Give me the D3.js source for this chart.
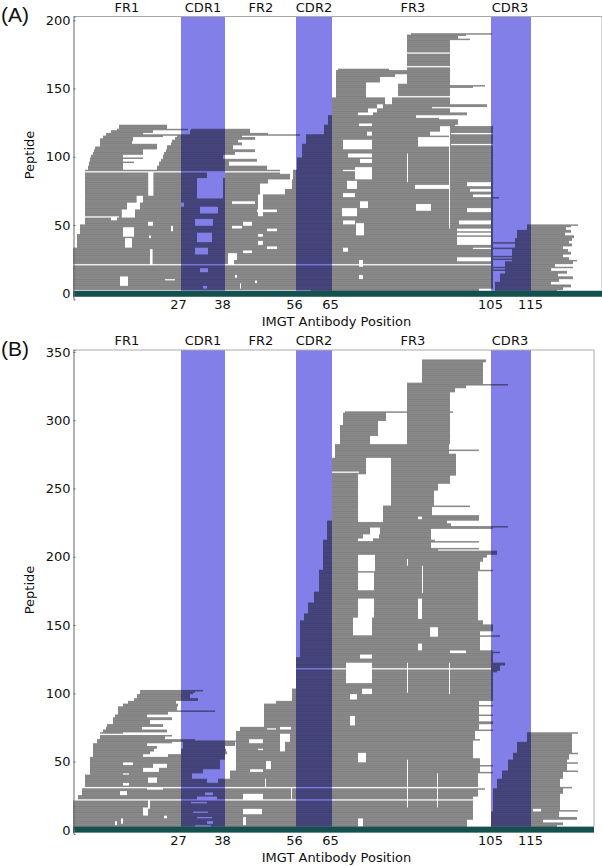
<!DOCTYPE html>
<meta charset="utf-8" />
<script src="https://d3js.org/d3.v7.min.js"></script>
<style>
  body { margin: 0; background: #fff; }
  text { font-family: "DejaVu Sans", sans-serif; fill: #111; }
</style>
<div id="chart"></div>
<script>
  // IMGT regions
  const regionNames = ["FR1", "CDR1", "FR2", "CDR2", "FR3", "CDR3"];
  const regionCenters = [14, 33, 47.5, 60.75, 85.5, 109.75];
  const cdrStarts = [27.5, 56.25, 105];
  const cdrEnds = [38.5, 65.25, 115];
  const positionTicks = [27, 38, 56, 65, 105, 115];
  const peptideTicksA = [0, 50, 100, 150, 200];
  const peptideTicksB = [0, 50, 100, 150, 200, 250, 300, 350];

  // peptide rows: [first row, last row, start position, end position]
  const peptidesA = [
    // long rows at the bottom
    [1, 3, 0.5, 102], [4, 33, 0.5, 105.5], [34, 43, 1.5, 105.5], [44, 50, 2.25, 105.5],
    [51, 90, 3.5, 105.5],
    // FR1 shoulder
    [121, 123, 12, 24], [120, 120, 11.5, 29.25], [118, 119, 10, 20.5], [116, 117, 8.75, 18],
    [116, 116, 9, 57.25], [114, 115, 8, 15.5], [115, 115, 8, 23], [112, 113, 7.25, 15.5], [110, 111, 7.25, 15.25],
    [108, 109, 7.25, 21.5], [106, 107, 6, 21.5], [104, 105, 5.75, 18], [102, 103, 5.5, 18],
    [100, 101, 5, 13], [99, 99, 4.75, 18], [97, 98, 4.75, 13], [96, 96, 4.5, 15.75], [94, 95, 4.5, 13], [91, 93, 4.25, 13],
    // CDR1 shoulder
    [120, 120, 30, 44.75], [118, 119, 29.75, 44.75], [117, 117, 29.75, 49.25], [115, 116, 26.5, 42.75],
    [113, 114, 26, 46], [111, 112, 25.25, 41.75], [109, 110, 25, 42.75], [106, 108, 24, 40.5],
    [104, 105, 23.75, 46], [102, 103, 23.25, 41], [99, 101, 23, 38], [97, 98, 22.5, 46.5],
    [94, 96, 22, 39.5], [91, 93, 21.5, 49],
    // CDR2 staircase and FR3
    [91, 99, 56.5, 105.5], [100, 109, 57.75, 105.5], [110, 116, 58.75, 105.5], [117, 122, 63.25, 105.5],
    [123, 123, 63.25, 96], [124, 127, 64.25, 96.75], [128, 128, 64.25, 92], [129, 130, 64.25, 86.25],
    [131, 132, 65.25, 71.75], [131, 132, 75.5, 99], [133, 135, 65.25, 74.25], [133, 135, 76.5, 94.75],
    [136, 138, 65.25, 76.5], [136, 136, 78, 90.25], [137, 138, 78, 104], [139, 143, 65.25, 78.5], [139, 143, 80.25, 94.75], [144, 149, 66.25, 73.75],
    [145, 153, 81.75, 94.75], [152, 152, 81.75, 103.5], [151, 151, 81.75, 100.5], [150, 154, 66.25, 73.75],
    [155, 158, 66.25, 77.25], [159, 160, 66.25, 81], [161, 163, 66.25, 84], [164, 164, 66.75, 79.5],
    [154, 185, 84, 94.75], [186, 186, 84, 99.75], [187, 188, 84, 96.75], [189, 189, 84, 98.75],
    [190, 190, 85, 105.25], [70, 70, 105.5, 107],
    // CDR3 staircase and tails
    [50, 50, 114, 126.75], [49, 49, 114, 125], [47, 48, 114, 123.75], [45, 46, 111.5, 125],
    [43, 44, 111.5, 123.5], [41, 42, 111.5, 125.75], [39, 40, 111, 125.25], [37, 38, 111, 124.5],
    [35, 36, 111, 125.25], [33, 34, 111, 123], [31, 32, 110.25, 124.25], [29, 30, 110.25, 125],
    [27, 28, 110.25, 123], [25, 26, 110.25, 124.5], [24, 24, 110.25, 126.5], [22, 23, 108.5, 125.5],
    [20, 21, 108.5, 121], [19, 19, 108.5, 125.5], [17, 18, 108.5, 120], [15, 16, 108.5, 124],
    [13, 14, 107.25, 121.75], [11, 12, 107.25, 125.5], [9, 10, 107.25, 122], [7, 8, 106, 120],
    [5, 6, 106, 125], [3, 4, 106, 123], [1, 2, 106, 121.5],
    [37, 37, 105, 112], [33, 33, 105, 112], [27, 27, 105, 112], [25, 25, 105, 112], [19, 19, 105, 110], [17, 17, 105, 110]
  ];

  // places where no peptide covers: [first row, last row, start position, end position]
  const gapsA = [
    // whole rows
    [89, 89, 3.5, 52.25], [21, 21, 0.5, 105], [2, 2, 0.5, 60], [56, 56, 3.5, 12],
    // FR1
    [72, 88, 19.3, 20.6], [67, 71, 16.4, 18], [62, 66, 14, 17.25], [56, 61, 12.7, 16],
    [42, 48, 13, 15.75], [34, 40, 13.5, 15.25], [22, 32, 19.75, 20.4], [6, 12, 12.25, 14.25],
    [54, 55, 10, 11.5], [50, 52, 19.25, 20.5], [46, 49, 25, 25.5], [41, 42, 19.5, 20], [10, 10, 23.5, 26],
    // CDR1
    [70, 84, 31.5, 38], [85, 88, 34, 38.5], [59, 63, 32.25, 36.75], [50, 54, 31, 35.5],
    [38, 44, 31.5, 35.25], [29, 33, 31, 34.25], [16, 18, 32.25, 34.25], [4, 5, 33, 34], [64, 66, 27.5, 28.25],
    // FR2
    [88, 90, 52.25, 55.5], [84, 87, 54.75, 55.5], [81, 83, 49.25, 55.25], [77, 80, 47.25, 55.25],
    [73, 76, 47.25, 53.5], [66, 72, 46.75, 48], [66, 67, 40.25, 46],
    [57, 65, 46.75, 48], [60, 61, 46.5, 51.5], [50, 52, 43, 45.25], [48, 49, 40.25, 42.75],
    [46, 47, 49, 51.5], [42, 43, 46.75, 48], [36, 38, 46.75, 48], [33, 34, 49, 51.5], [30, 31, 43, 45.25],
    [25, 29, 39.25, 41.5], [22, 24, 39.25, 40.75], [8, 9, 46, 46.5], [12, 13, 41, 41.5], [4, 7, 42.25, 42.5],
    // FR3
    [123, 124, 72, 75.25], [116, 118, 74, 75.25],
    [106, 112, 68, 75.25], [100, 102, 69.25, 75.25], [96, 98, 72.25, 75.25], [90, 90, 68, 75.25],
    [84, 92, 71, 75.25], [77, 82, 69, 71.5], [71, 73, 68, 71],
    [63, 67, 72.25, 74.25], [57, 62, 67.75, 71.5], [51, 53, 68, 71], [43, 51, 71.25, 73.25],
    [31, 33, 68, 69.25], [20, 24, 72, 73], [11, 13, 72, 73], [77, 79, 86, 94.5], [61, 65, 86.25, 90],
    [119, 122, 92.25, 94.75], [116, 118, 89.75, 94.75], [108, 114, 86.75, 94.75],
    [48, 122, 94.5, 94.75], [82, 102, 84, 84.25], [117, 117, 95, 105.5], [109, 109, 95, 105.5],
    [176, 176, 84, 94.75], [166, 166, 84, 94.75],
    // right of FR3
    [79, 81, 99, 105], [75, 76, 99.75, 105], [71, 72, 100.5, 105], [60, 62, 99, 105], [51, 53, 97, 105],
    [46, 47, 96.5, 105], [43, 44, 96.5, 105], [36, 41, 96.5, 105], [33, 33, 100.5, 105], [24, 26, 96.5, 105]
  ];

  const peptidesB = [
    // FR1 staircase
    [0, 21, 0.5, 41.25], [22, 25, 1.75, 41.25], [26, 30, 2.75, 41.25], [31, 40, 3.5, 41.25], [41, 43, 4.75, 41.25],
    [44, 52, 4.75, 37.25], [53, 53, 4.75, 38.5], [54, 55, 5.5, 18], [56, 57, 5.5, 19.75], [58, 59, 5.5, 20.75],
    [60, 61, 5.5, 21.5], [62, 63, 5.5, 19], [64, 64, 6.5, 25.25], [65, 66, 6.5, 31], [67, 68, 7.25, 23.5],
    [69, 70, 7.25, 25.25], [71, 71, 7.25, 13], [72, 73, 8, 24], [74, 75, 8.75, 17.75], [76, 77, 9, 23],
    [78, 80, 10.5, 19.75], [81, 82, 10.5, 25.25], [83, 84, 11, 19], [85, 86, 11.75, 24.25], [87, 87, 11.75, 36],
    [88, 90, 11.75, 26.5], [91, 92, 13, 26.75], [93, 94, 14.25, 26.25], [95, 96, 15.75, 31.75],
    [97, 99, 16.5, 29.75], [100, 100, 17.25, 30.5], [101, 101, 17.25, 31], [102, 102, 17.25, 33],
    // CDR1 pieces
    [65, 65, 28, 41.75], [62, 64, 28, 41], [60, 61, 28, 38.5], [58, 59, 27.5, 38.75], [56, 57, 27.5, 39],
    [52, 55, 24.25, 38.5],
    // FR2, CDR2 staircase and FR3
    [0, 2, 41.25, 99], [3, 7, 41.25, 99], [8, 24, 41.25, 100.5], [25, 26, 41.25, 101.75], [27, 29, 41.25, 101.75],
    [30, 30, 41.25, 103.5], [31, 41, 41.25, 101.75], [42, 42, 41.25, 105.5], [43, 46, 41.25, 102.25],
    [47, 47, 41.25, 105.5], [48, 52, 41.25, 102.25], [53, 65, 41.25, 100.5], [66, 66, 41.25, 102.25],
    [67, 72, 41.25, 101], [73, 73, 42.25, 105.5], [74, 75, 42.25, 102], [76, 77, 48.25, 102],
    [78, 79, 48.25, 105.5], [80, 83, 48.25, 102], [84, 84, 48.25, 105.5], [85, 90, 48.25, 102],
    [91, 91, 48.25, 105.5], [92, 92, 48.25, 102], [93, 94, 51.25, 102], [95, 103, 55.25, 105.5],
    [104, 115, 56.25, 105.5], [116, 116, 56.25, 106.5], [117, 120, 56.25, 107.25], [121, 122, 56.25, 108.5],
    [123, 126, 56.25, 105.5], [127, 129, 57.25, 105.5], [130, 130, 57.25, 107.25], [131, 131, 57.25, 105.5],
    [132, 141, 57.25, 102.25], [142, 142, 57.25, 107.25], [143, 145, 57.25, 102.25], [146, 150, 57.25, 105.5],
    [151, 153, 57.25, 103], [154, 158, 58.25, 101.75], [159, 166, 59.25, 101.75], [167, 174, 60.75, 101.75],
    [175, 189, 62, 101.75], [190, 190, 62, 105.5], [191, 196, 63, 102.25], [197, 199, 63, 103],
    [200, 201, 63, 104], [202, 204, 63, 106.5], [205, 205, 63, 91.75], [206, 206, 63, 102],
    [207, 210, 63, 90], [211, 211, 63, 102], [212, 212, 63, 91], [213, 220, 64, 90], [221, 221, 64, 105.5],
    [222, 222, 64, 109.25], [223, 224, 64, 95], [225, 226, 64, 94], [227, 230, 65.25, 102],
    [231, 236, 65.25, 90.25], [237, 237, 65.25, 99.75], [238, 248, 65.25, 90.75], [249, 253, 65.25, 91.75],
    [254, 259, 65.25, 94.75], [260, 272, 65.25, 96.25], [273, 275, 66, 96.25], [276, 277, 66, 94.5],
    [278, 278, 66, 102], [279, 282, 66, 94.5], [283, 296, 67.25, 94.75], [297, 305, 68, 94.75],
    [306, 306, 68.5, 95.5], [307, 320, 84, 94.75], [321, 323, 84, 96], [324, 325, 84, 98.75],
    [326, 326, 84, 109.25], [327, 327, 84, 103], [328, 342, 87.75, 103], [343, 344, 87.75, 103.75],
    // CDR3 staircase and tails
    [71, 71, 114, 126.75], [65, 70, 114, 125.25], [57, 64, 111.5, 125.25], [56, 56, 110.5, 126.75],
    [52, 55, 110.5, 124.5], [50, 51, 109.25, 124], [49, 49, 109.25, 126.75], [44, 48, 109.25, 124],
    [43, 43, 107.75, 126.75], [38, 42, 107.75, 123], [32, 37, 106.5, 122.25], [31, 31, 106.5, 125.25],
    [27, 30, 105.5, 123], [15, 26, 105.5, 122.25], [14, 14, 105.5, 126.75], [10, 13, 105, 122],
    [8, 9, 105, 126.5], [6, 7, 105, 118], [4, 5, 105, 123], [2, 3, 105, 121.5]
  ];

  const gapsB = [
    // whole rows
    [31, 31, 0.5, 105], [22, 22, 0.5, 105], [70, 70, 7, 25.25], [118, 118, 56, 105], [262, 262, 65, 72],
    // FR1
    [46, 48, 20.5, 24], [43, 45, 18, 22], [48, 49, 13, 15.5], [41, 41, 13, 14.5], [35, 38, 19.25, 21.5],
    [26, 28, 12.25, 14], [11, 16, 18, 19.25], [16, 21, 19.25, 19.75], [5, 8, 12.5, 13], [4, 6, 11, 11.5],
    [9, 10, 23.25, 24], [33, 34, 13, 14.5], [30, 30, 19, 23],
    // CDR1
    [42, 44, 33, 38.5], [38, 41, 30.25, 38.5], [35, 37, 34, 36.75], [38, 43, 38.5, 39.75], [31, 31, 31, 34],
    [26, 27, 33.5, 35.5], [23, 24, 31.5, 36.5], [20, 20, 30, 34], [13, 13, 30.5, 34.25], [9, 9, 31.5, 35.25],
    [5, 6, 34, 35.5], [3, 3, 31, 35],
    // FR2
    [64, 66, 44.5, 48], [65, 70, 52.25, 54.75], [58, 64, 52.25, 53.5], [59, 59, 46.75, 48], [22, 26, 43, 48],
    [12, 15, 43, 47.75], [4, 9, 43, 43.75], [45, 50, 48.75, 50], [43, 44, 44.75, 48], [31, 37, 48.5, 48.75],
    [22, 30, 55, 55.25], [74, 74, 49, 51.25], [74, 75, 52.25, 55],
    // FR3, upper part
    [300, 305, 78.75, 84], [289, 299, 76.75, 84], [283, 288, 74.75, 84], [261, 272, 73.75, 80],
    [238, 260, 71.75, 80], [226, 237, 71.75, 78], [228, 229, 86.75, 87.75], [217, 221, 74.75, 77.25],
    [214, 216, 73, 77], [212, 213, 71.75, 75.5], [190, 201, 71.75, 76], [176, 188, 71.75, 75.75],
    [156, 169, 71.75, 75.75], [155, 169, 86.75, 87.75], [174, 193, 87.75, 88], [194, 198, 84, 84.25],
    // FR3, lower part
    [143, 155, 70.5, 75.25], [142, 148, 89.75, 91.75], [126, 128, 72.25, 75.25], [108, 122, 68.75, 75.25],
    [100, 103, 72.75, 75.25], [96, 99, 69.75, 71.5], [77, 83, 69.75, 71], [50, 56, 71.75, 73.75],
    [3, 8, 71.75, 73], [132, 136, 86.75, 87.75], [130, 131, 94.75, 98.75], [101, 122, 84, 84.25],
    [100, 122, 94.5, 94.75], [17, 41, 91.5, 91.75], [17, 51, 84, 84.25], [14, 15, 115.5, 117.5]
  ];

  // merges the runs of each row and takes the gaps out, one rect per remaining span
  function rowSpans(runs, gaps) {
    const byRow = new Map();
    runs.forEach(function (d) {
      for (let r = d[0]; r <= d[1]; r++) {
        if (!byRow.has(r)) byRow.set(r, []);
        byRow.get(r).push([d[2], d[3]]);
      }
    });
    const spans = [];
    byRow.forEach(function (list, row) {
      list.sort((a, b) => a[0] - b[0]);
      const merged = [];
      list.forEach(function (s) {
        const last = merged[merged.length - 1];
        if (last && s[0] <= last[1]) last[1] = Math.max(last[1], s[1]);
        else merged.push(s.slice());
      });
      const rowGaps = gaps.filter((g) => row >= g[0] && row <= g[1]).sort((a, b) => a[2] - b[2]);
      merged.forEach(function (s) {
        let start = s[0];
        rowGaps.forEach(function (g) {
          if (g[3] <= start || g[2] >= s[1]) return;
          if (g[2] > start) spans.push({ row: row, start: start, end: g[2] });
          start = Math.max(start, g[3]);
        });
        if (start < s[1]) spans.push({ row: row, start: start, end: s[1] });
      });
    });
    return spans;
  }

  const svg = d3.select("#chart").append("svg").attr("width", 602).attr("height", 866);

  function drawPanel(opt) {
    const x = d3.scaleLinear().domain(opt.xDomain).range([73, opt.right]);
    const y = d3.scaleLinear().domain(opt.yDomain).range([opt.bottom, opt.top]);
    const g = svg.append("g");

    // CDR bands
    g.selectAll(".band")
      .data(cdrStarts)
      .enter()
      .append("rect")
      .attr("x", (d) => x(d))
      .attr("width", (d, i) => x(cdrEnds[i]) - x(d))
      .attr("y", opt.top)
      .attr("height", y(opt.barTop) - opt.top)
      .attr("fill", "#8280e8");

    // peptides
    const rowStep = y(0) - y(1);
    g.selectAll(".peptide")
      .data(rowSpans(opt.peptides, opt.gaps))
      .enter()
      .append("rect")
      .attr("x", (d) => x(d.start))
      .attr("width", (d) => x(d.end) - x(d.start))
      .attr("y", (d) => y(d.row + 0.5))
      .attr("height", rowStep * 1.12)
      .attr("fill", "#000")
      .attr("fill-opacity", 0.46);

    // sequence bar along the bottom
    g.append("rect")
      .attr("x", 73)
      .attr("width", opt.right - 73)
      .attr("y", y(opt.barTop))
      .attr("height", y(opt.barBottom) - y(opt.barTop))
      .attr("fill", "#14504e");

    // frame
    g.append("path").attr("d", `M73,${opt.top}H${opt.right}V${y(opt.barTop)}`).attr("fill", "none").attr("stroke", "#aaa");

    const yAxis = g.append("g")
      .attr("transform", "translate(73.5,0)")
      .call(d3.axisLeft(y).tickValues(opt.yTicks).tickSize(-2).tickPadding(3));
    yAxis.select(".domain").attr("stroke", "#666");
    yAxis.selectAll(".tick line").attr("stroke", "#666");
    yAxis.selectAll("text").style("font-size", "13px").style("font-family", "DejaVu Sans");

    const xAxis = g.append("g")
      .attr("transform", `translate(-1,${y(opt.barBottom)})`)
      .call(d3.axisBottom(x).tickValues(positionTicks).tickSize(0).tickPadding(3));
    xAxis.select(".domain").remove();
    xAxis.selectAll("text").style("font-size", "13px").style("font-family", "DejaVu Sans");

    g.selectAll(".region")
      .data(regionNames)
      .enter()
      .append("text")
      .attr("x", (d, i) => x(regionCenters[i]))
      .attr("y", opt.top - 5)
      .attr("text-anchor", "middle")
      .style("font-size", "13px")
      .text((d) => d);

    g.append("text")
      .attr("x", 336.5)
      .attr("y", y(opt.barBottom) + 29.5)
      .attr("text-anchor", "middle")
      .style("font-size", "13px")
      .text("IMGT Antibody Position");

    g.append("text")
      .attr("transform", `translate(34,${opt.peptideY}) rotate(-90)`)
      .attr("text-anchor", "middle")
      .style("font-size", "13px")
      .text("Peptide");

    g.append("text")
      .attr("x", 1)
      .attr("y", opt.top + 5.5)
      .style("font-family", "Liberation Sans")
      .style("font-size", "21px")
      .text(opt.letter);
  }

  drawPanel({
    letter: "(A)", peptides: peptidesA, gaps: gapsA, yTicks: peptideTicksA,
    xDomain: [0.5, 132.75], yDomain: [-4.5, 202.7], right: 602, top: 16.5, bottom: 299.5,
    barTop: 1.9, barBottom: -2.5, peptideY: 155
  });
  drawPanel({
    letter: "(B)", peptides: peptidesB, gaps: gapsB, yTicks: peptideTicksB,
    xDomain: [0.5, 130.75], yDomain: [-3, 351.4], right: 594, top: 350, bottom: 834,
    barTop: 2.4, barBottom: -2, peptideY: 590
  });
</script>
